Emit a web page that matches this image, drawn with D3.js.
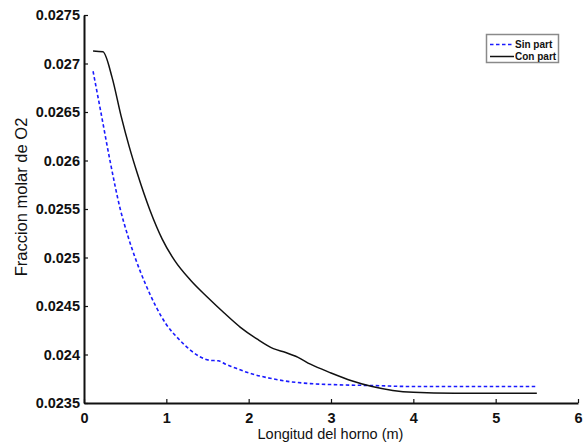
<!DOCTYPE html>
<html>
<head>
<meta charset="utf-8">
<script src="https://cdn.jsdelivr.net/npm/d3@7"></script>
<style>
  html, body { margin: 0; padding: 0; background: #fff; }
  svg text { font-family: "Liberation Sans", Arial, Helvetica, sans-serif; fill: #111; }
</style>
</head>
<body>
<svg id="chart" width="584" height="445"></svg>
<script>
// Oxygen mole fraction along the kiln, without and with particles
const xSin = [0.11, 0.2, 0.32, 0.44, 0.53, 0.62, 0.75, 0.87, 1.0, 1.15, 1.3, 1.4, 1.53, 1.63, 1.72, 1.81, 2.0, 2.26, 2.5, 2.75, 3.0, 3.5, 4.0, 4.5, 5.0, 5.5];
const ySin = [0.02692, 0.02652, 0.02598, 0.0255, 0.02523, 0.025, 0.02472, 0.0245, 0.02431, 0.02416, 0.02404, 0.02398, 0.02394, 0.023935, 0.0239, 0.02387, 0.02381, 0.023755, 0.02372, 0.0237, 0.02369, 0.02368, 0.02367, 0.02367, 0.02367, 0.02367];

const xCon = [0.11, 0.23, 0.34, 0.45, 0.55, 0.65, 0.8, 0.95, 1.1, 1.3, 1.5, 1.7, 1.9, 2.1, 2.3, 2.45, 2.6, 2.75, 3.0, 3.25, 3.5, 3.75, 4.0, 4.5, 5.0, 5.5];
const yCon = [0.02713, 0.02712, 0.02686, 0.02646, 0.02614, 0.02586, 0.02549, 0.02519, 0.02497, 0.02476, 0.02459, 0.02443, 0.02428, 0.02416, 0.02406, 0.02402, 0.02397, 0.0239, 0.02381, 0.02373, 0.02367, 0.02363, 0.02361, 0.0236, 0.0236, 0.0236];

const xTicks = [0, 1, 2, 3, 4, 5, 6];
const yTicks = [0.0235, 0.024, 0.0245, 0.025, 0.0255, 0.026, 0.0265, 0.027, 0.0275];
const seriesNames = ["Sin part", "Con part"];
const xTitle = "Longitud del horno (m)";
const yTitle = "Fraccion molar de O2";

const svg = d3.select("#chart");
const plotLeft = 84, plotRight = 578, plotTop = 15, plotBottom = 403;

const x = d3.scaleLinear().domain([0, 6]).range([plotLeft, plotRight]);
const y = d3.scaleLinear().domain([0.0235, 0.0275]).range([plotBottom, plotTop]);

// axes with inward ticks
const xAxis = d3.axisBottom(x).tickValues(xTicks).tickSizeInner(-4).tickSizeOuter(0)
  .tickFormat(d3.format("d"));
const yAxis = d3.axisLeft(y).tickValues(yTicks).tickSizeInner(-4).tickSizeOuter(0)
  .tickFormat(d => String(+d.toFixed(4)));

const gx = svg.append("g").attr("transform", `translate(0,${plotBottom})`).call(xAxis);
const gy = svg.append("g").attr("transform", `translate(${plotLeft},0)`).call(yAxis);

[gx, gy].forEach(g => {
  g.select(".domain").attr("stroke", "#111").attr("stroke-width", 2);
  g.selectAll(".tick line").attr("stroke", "#111").attr("stroke-width", 1.2);
  g.selectAll(".tick text").attr("font-size", 14.5).attr("font-weight", "bold")
    .attr("fill", "#111").style("font-family", "'Liberation Sans', Arial, sans-serif");
});
gx.selectAll(".tick text").attr("y", 19.5).attr("dy", null);
gy.selectAll(".tick text").attr("x", -4);

// axis titles
svg.append("text")
  .attr("x", (plotLeft + plotRight) / 2 - 0.5).attr("y", 439)
  .attr("text-anchor", "middle").attr("font-size", 14.5)
  .text(xTitle);

svg.append("text")
  .attr("transform", "translate(27,197) rotate(-90)")
  .attr("text-anchor", "middle").attr("font-size", 16.5)
  .text(yTitle);

// series
const line = d3.line().x(d => x(d[0])).y(d => y(d[1])).curve(d3.curveMonotoneX);

svg.append("path")
  .datum(d3.zip(xSin, ySin))
  .attr("fill", "none").attr("stroke", "#1a1aff").attr("stroke-width", 1.6)
  .attr("stroke-dasharray", "3.5,2.5")
  .attr("d", line);

svg.append("path")
  .datum(d3.zip(xCon, yCon))
  .attr("fill", "none").attr("stroke", "#111").attr("stroke-width", 1.5)
  .attr("d", line);

// legend
const lg = svg.append("g");
lg.append("rect").attr("x", 486.5).attr("y", 34.5).attr("width", 72).attr("height", 28)
  .attr("fill", "#fff").attr("stroke", "#8a8a8a").attr("stroke-width", 1.5);
const styles = [
  { stroke: "#1a1aff", dash: "3.5,2.5" },
  { stroke: "#111", dash: null }
];
seriesNames.forEach((name, i) => {
  const cy = 44.5 + i * 12;
  lg.append("line").attr("x1", 490).attr("x2", 514).attr("y1", cy).attr("y2", cy)
    .attr("stroke", styles[i].stroke).attr("stroke-width", 1.5)
    .attr("stroke-dasharray", styles[i].dash);
  lg.append("text").attr("x", 515).attr("y", cy).attr("dy", "0.35em")
    .attr("font-size", 10).attr("font-weight", "bold").text(name);
});
</script>
</body>
</html>
